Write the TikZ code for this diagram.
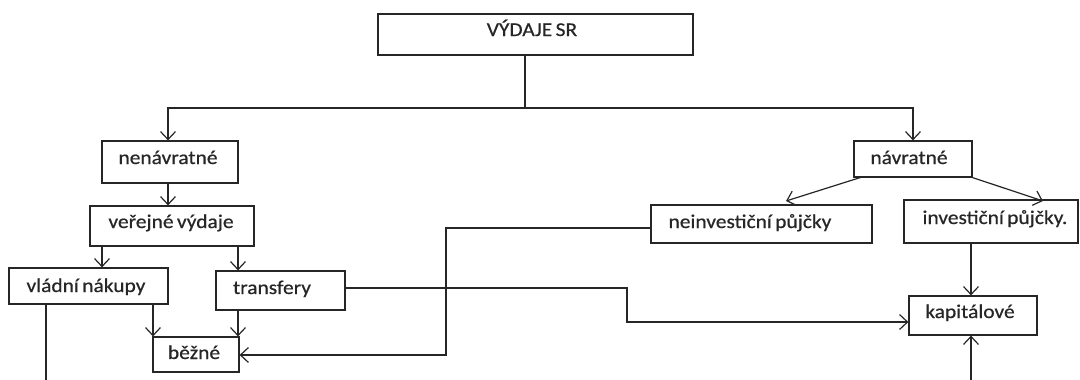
\documentclass[tikz,border=0pt]{standalone}
\usepackage{fontspec}
\setmainfont[FakeStretch=1.1,WordSpace=0.7]{Carlito}
\usetikzlibrary{arrows.meta}
\begin{document}
\begin{tikzpicture}[x=1pt,y=-1pt,
  box/.style={draw=black!85, line width=1.2pt, inner sep=0pt, rectangle},
  lbl/.style={anchor=base, inner sep=0pt, font=\fontsize{19.5}{22}\selectfont\addfontfeature{FakeBold=0.6}, text=black!85},
  conn/.style={draw=black!85, line width=1.2pt},
  arr/.style={conn, -{Straight Barb[length=8pt,width=15pt,line width=1.2pt]}}]
\useasboundingbox (0,0) rectangle (1080,380);
% boxes
\node[box, minimum width=315pt, minimum height=41pt] (vyd) at (535.5,34.5) {};
\node[box, minimum width=136pt, minimum height=42pt] (nenav) at (170,162) {};
\node[box, minimum width=164pt, minimum height=40pt] (ver) at (172,226) {};
\node[box, minimum width=159pt, minimum height=36pt] (vlad) at (88.5,286) {};
\node[box, minimum width=129pt, minimum height=39pt] (trans) at (280.5,290.5) {};
\node[box, minimum width=86pt, minimum height=35pt] (bez) at (196,354.5) {};
\node[box, minimum width=118pt, minimum height=36pt] (nav) at (913,159) {};
\node[box, minimum width=221pt, minimum height=38pt] (nein) at (761.5,224) {};
\node[box, minimum width=174pt, minimum height=43pt] (inv) at (991,221.5) {};
\node[box, minimum width=128pt, minimum height=39pt] (kap) at (973,315.5) {};
% labels
\node[lbl] (tvyd) at (532,36) {VÝDAJE SR};
\node[lbl] (tnenav) at (168,164) {nenávratné};
\node[lbl] (tver) at (171,228) {veřejné výdaje};
\node[lbl] (tvlad) at (86,292) {vládní nákupy};
\node[lbl] (ttrans) at (272,294) {transfery};
\node[lbl] (tbez) at (194,359) {běžné};
\node[lbl] (tnav) at (909,164) {návratné};
\node[lbl] (tnein) at (750,228) {neinvestiční půjčky};
\node[lbl] (tinv) at (995,224) {investiční půjčky.};
\node[lbl] (tkap) at (970,318) {kapitálové};
% helper coordinates
\coordinate (j) at (525,108);
\coordinate (xa) at (102,0);
\coordinate (xb) at (238,0);
\coordinate (xc) at (46,0);
\coordinate (xd) at (153,0);
\coordinate (xe) at (971,0);
\coordinate (bot) at (0,380);
\coordinate (c1) at (446,228);
\coordinate (c2) at (446,355);
\coordinate (d1) at (627,288);
\coordinate (d2) at (627,322);
\coordinate (e1) at (862,177);
\coordinate (e2) at (786,201);
\coordinate (f2) at (1043,201);
% connectors
\draw[conn] (vyd.south -| j) -- (j);
\draw[arr] (j) -| ([xshift=-2pt]nenav.north);
\draw[arr] (j) -| (nav.north);
\draw[arr] ([xshift=-2pt]nenav.south) -- ([xshift=-2pt]nenav.south |- ver.north);
\draw[arr] (ver.south -| xa) -- (vlad.north -| xa);
\draw[arr] (ver.south -| xb) -- (trans.north -| xb);
\draw[conn] (vlad.south -| xc) -- (bot -| xc);
\draw[arr] (vlad.south -| xd) -- (bez.north -| xd);
\draw[arr] (trans.south -| xb) -- (bez.north -| xb);
\draw[arr] (nein.west |- c1) -- (c1) -- (c2) -- (bez.east |- c2);
\draw[arr] (trans.east |- d1) -- (d1) -- (d2) -- (kap.west |- d2);
\draw[arr] (e1) -- (e2);
\draw[arr] (nav.south east) -- (f2);
\draw[arr] (inv.south -| xe) -- (kap.north -| xe);
\draw[arr] (bot -| xe) -- (kap.south -| xe);
\end{tikzpicture}
\end{document}
